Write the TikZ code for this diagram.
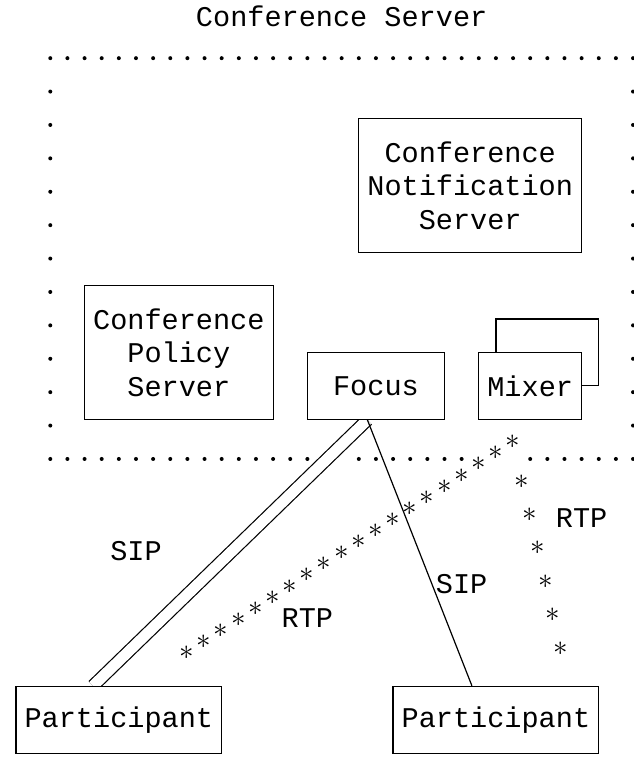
\documentclass[tikz,border=0pt]{standalone}
\usepackage{fontspec}
\setmainfont{Liberation Mono}
\usetikzlibrary{decorations.markings, backgrounds}
\tikzset{
box/.style={draw, line width=1.2pt, fill=white, inner sep=0pt, align=center}, % every box of the figure
lbl/.style={anchor=base, inner sep=0pt}, % free texts sit on a text line
sip/.style={line width=1.2pt}, % SIP signalling legs
sipdouble/.style={sip, double, double distance=10.8pt}, % the doubled SIP leg
ast/.style={inner sep=0pt, font=\fontsize{20.74pt}{20.74pt}\selectfont}, % one RTP asterisk
rtp/.style n args={3}{postaction={decorate}, decoration={markings, mark=between positions #1 and #2 step #3 with {\node[ast] {\scalebox{1.4}{$\ast$}};}}}, % RTP media as a row of asterisks
}

\begin{document}
\begin{tikzpicture}[x=17.14pt, y=33.4pt, font=\fontsize{28.56pt}{33.4pt}\selectfont]
    \useasboundingbox (-0.9335,-0.2186) rectangle (36.056,-23.003);
    \node[lbl] (title) at (19,-1) {Conference Server};
    % boxes inside the conference server
    \node[box, minimum width=222.82pt, minimum height=133.6pt] (notify) at (26.5,-5.77) {Conference\\Notification\\Server};
    \node[box, minimum width=188.54pt, minimum height=133.6pt] (policy) at (9.5,-10.77) {Conference\\Policy\\Server};
    \node[box, minimum width=137.12pt, minimum height=66.8pt] (focus) at (21,-11.77) {Focus};
    \node[box, minimum width=102.84pt, minimum height=66.8pt] (mixerback) at (31,-10.77) {};
    \node[box, minimum width=102.84pt, minimum height=66.8pt] (mixer) at (30,-11.77) {Mixer};
    % participants
    \node[box, minimum width=205.68pt, minimum height=66.8pt] (part1) at (6,-21.77) {Participant};
    \node[box, minimum width=205.68pt, minimum height=66.8pt] (part2) at (28,-21.77) {Participant};
    \begin{pgfonlayer}{background}
        \draw[sipdouble] ([xshift=-8.57pt]focus.south) -- ([xshift=-25.71pt]part1.north);
        \draw[sip] ([xshift=-8.57pt]focus.south) -- ([xshift=-24pt]part2.north);
    \end{pgfonlayer}
    \path[rtp={40.88pt}{430pt}{20.44pt}] ([xshift=17.14pt]mixer.south) -- ([xshift=17.14pt]part1.north);
    \path[rtp={63.1pt}{235pt}{34.28pt}] ([xshift=-22.28pt]mixer.south) -- ([xshift=73.7pt]part2.north);
    % labels of the legs
    \node[lbl] (sipleft) at (7,-17) {SIP};
    \node[lbl] (sipright) at (26,-18) {SIP};
    \node[lbl] (rtpleft) at (17,-19) {RTP};
    \node[lbl] (rtpright) at (33,-16) {RTP};
    % dotted border of the conference server
    \foreach \c in {2,...,36} \fill (\c,-1.96) circle (2pt);
    \foreach \c in {2,...,17,20,21,...,26,30,31,...,36} \fill (\c,-13.96) circle (2pt);
    \foreach \r in {3,...,13} {
        \fill (2,0.04-\r) circle (2pt);
        \fill (36,0.04-\r) circle (2pt);
    }
\end{tikzpicture}
\end{document}
